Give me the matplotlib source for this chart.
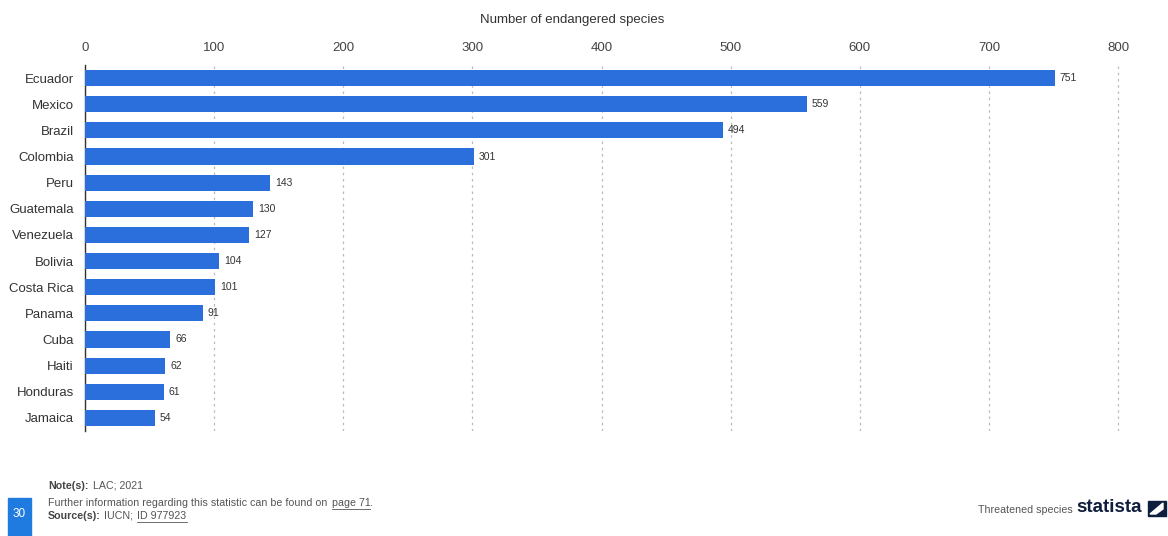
import matplotlib
matplotlib.use("Agg")
import matplotlib.pyplot as plt
from matplotlib.patches import Rectangle, Polygon

countries = ["Ecuador", "Mexico", "Brazil", "Colombia", "Peru", "Guatemala", "Venezuela",
             "Bolivia", "Costa Rica", "Panama", "Cuba", "Haiti", "Honduras", "Jamaica"]
values = [751, 559, 494, 301, 143, 130, 127, 104, 101, 91, 66, 62, 61, 54]
xticks = [0, 100, 200, 300, 400, 500, 600, 700, 800]

plt.rcParams['font.family'] = ['Liberation Sans', 'DejaVu Sans']

W, H = 1168, 536
fig = plt.figure(figsize=(W/100, H/100), dpi=100)
ax = fig.add_axes([85/W, 1-431/H, (1124.5-85)/W, (431-65)/H])

bar_color = '#2a6fdb'
ypos = list(range(len(countries)))
ax.barh(ypos, values, height=0.62, color=bar_color, zorder=3)
ax.set_ylim(len(countries)-0.5, -0.5)
ax.set_xlim(0, 805)
ax.set_xticks(xticks)
ax.xaxis.tick_top()
ax.xaxis.set_label_position('top')
ax.set_xlabel("Number of endangered species", fontsize=9.5, color='#333333', labelpad=10)
ax.xaxis.set_label_coords((572-85)/(1124.5-85), 1 + (65-20)/(431-65))
ax.xaxis.label.set_va('center')
ax.tick_params(axis='x', length=0, labelsize=9.5, labelcolor='#444444', pad=8)
ax.tick_params(axis='y', length=0, labelsize=9.5, labelcolor='#333333', pad=8)
ax.set_yticks(ypos)
ax.set_yticklabels(countries)
ax.grid(axis='x', linestyle=(0, (2, 3)), color='#bbbbbb', linewidth=0.9, zorder=0)
for s in ['top', 'right', 'bottom']:
    ax.spines[s].set_visible(False)
ax.spines['left'].set_color('#333333')
ax.spines['left'].set_linewidth(1.0)

for y, v in zip(ypos, values):
    ax.text(v + 4, y, str(v), va='center', ha='left', fontsize=7.5, color='#333333')

# footer
fs = 7.7
fig.patches.append(Rectangle((8/W, 0), 23/W, 38/H, transform=fig.transFigure,
                             color='#1f7be0', zorder=5))
fig.text(19.5/W, 1-514/H, "30", ha='center', va='center', fontsize=8.5, color='white', zorder=6)
fig.text(48/W, 1-486/H, "Note(s):", fontsize=fs, color='#444444', fontweight='bold', va='center')
fig.text(93/W, 1-486/H, "LAC; 2021", fontsize=fs, color='#555555', va='center')
fig.text(48/W, 1-503/H, "Further information regarding this statistic can be found on", fontsize=fs,
         color='#555555', va='center')
fig.text(332/W, 1-503/H, "page 71", fontsize=fs, color='#555555', va='center')
fig.text(370/W, 1-503/H, ".", fontsize=fs, color='#555555', va='center')
fig.text(48/W, 1-516/H, "Source(s):", fontsize=fs, color='#444444', fontweight='bold', va='center')
fig.text(104/W, 1-516/H, "IUCN;", fontsize=fs, color='#555555', va='center')
fig.text(137/W, 1-516/H, "ID 977923", fontsize=fs, color='#555555', va='center')
fig.lines.append(plt.Line2D([332/W, 370/W], [1-509/H, 1-509/H], transform=fig.transFigure,
                            color='#555555', linewidth=0.6))
fig.lines.append(plt.Line2D([137/W, 187/W], [1-522/H, 1-522/H], transform=fig.transFigure,
                            color='#555555', linewidth=0.6))
fig.text(1073/W, 1-510/H, "Threatened species", fontsize=fs, color='#555555', va='center', ha='right')
fig.text(1142/W, 1-508/H, "statista", fontsize=13.5, color='#0f1e3c', va='center', ha='right',
         fontweight='bold', fontstretch='condensed')
fig.patches.append(Rectangle((1148/W, 1-516/H), 18/W, 15/H, transform=fig.transFigure,
                             color='#0f1e3c', zorder=5))
fig.patches.append(Polygon([(1150/W, 1-514/H), (1163/W, 1-503/H), (1163/W, 1-509/H), (1156/W, 1-514/H)],
                           closed=True, transform=fig.transFigure, color='white', zorder=6))

fig.savefig("out.png", dpi=100, facecolor='white')
